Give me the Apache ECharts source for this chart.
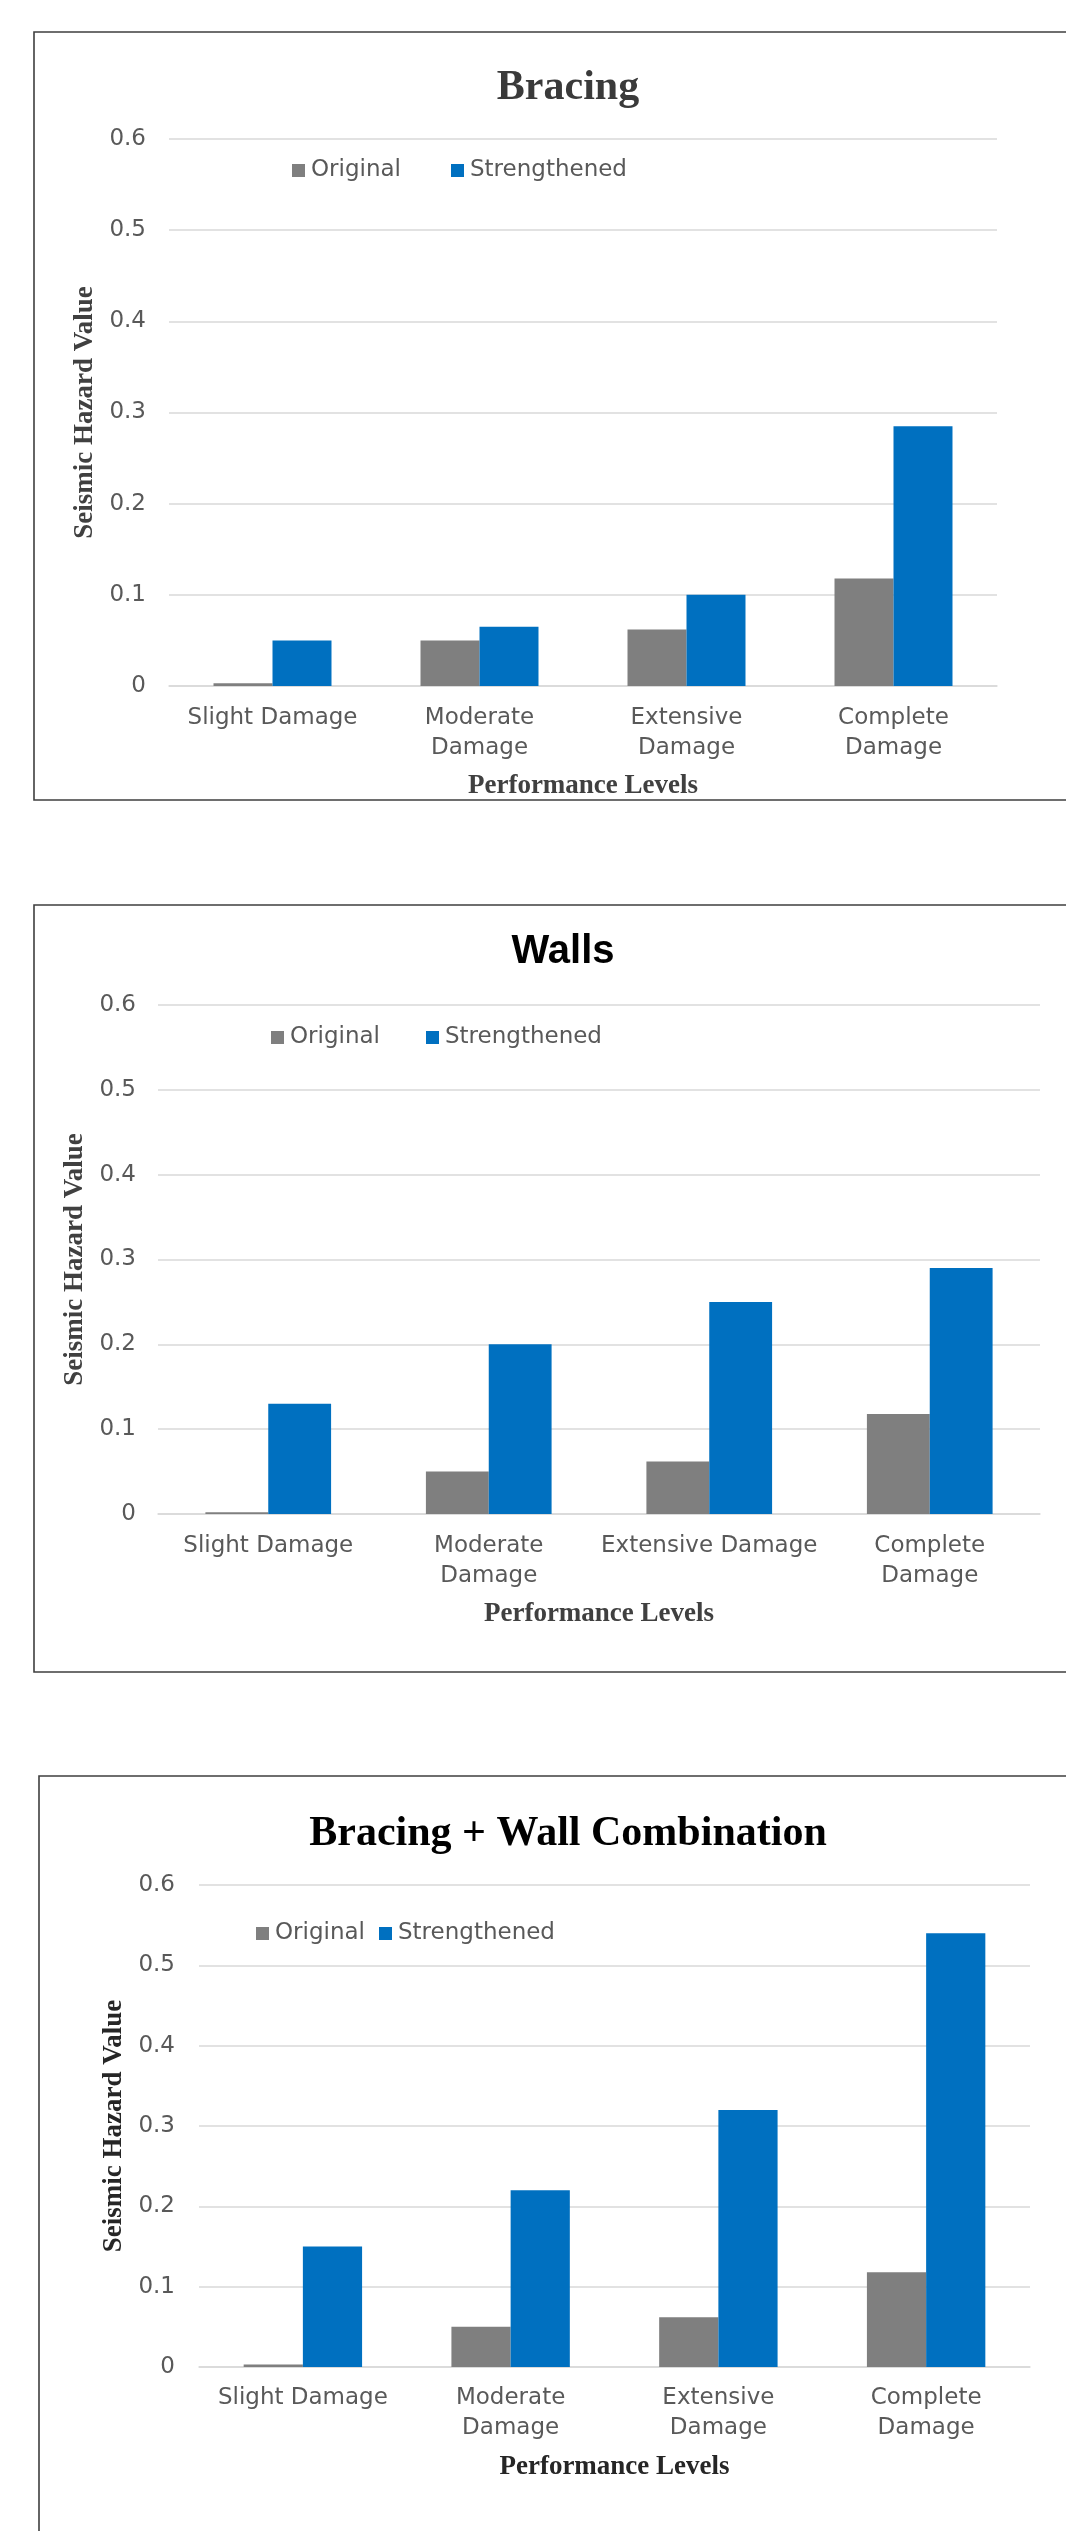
<!DOCTYPE html>
<html>
<head>
<meta charset="utf-8">
<script src="https://cdn.jsdelivr.net/npm/echarts@6/dist/echarts.min.js"></script>
<style>
  html, body { margin: 0; padding: 0; background: #ffffff; }
  #chart { width: 1066px; height: 2531px; }
</style>
</head>
<body>
<div id="chart"></div>
<script>
// ---- data ----
const categories = ["Slight Damage", "Moderate Damage", "Extensive Damage", "Complete Damage"];
const seriesNames = ["Original", "Strengthened"];
const yTickLabels = [0, 0.1, 0.2, 0.3, 0.4, 0.5, 0.6];
const chartTitles = ["Bracing", "Walls", "Bracing + Wall Combination"];
const xAxisTitle = "Performance Levels";
const yAxisTitle = "Seismic Hazard Value";

const bracingOriginal     = [0.003, 0.05, 0.062, 0.118];
const bracingStrengthened = [0.05, 0.065, 0.1, 0.285];
const wallsOriginal       = [0.002, 0.05, 0.062, 0.118];
const wallsStrengthened   = [0.13, 0.2, 0.25, 0.29];
const comboOriginal       = [0.003, 0.05, 0.062, 0.118];
const comboStrengthened   = [0.15, 0.22, 0.32, 0.54];

// ---- layout / style ----
const GRAY = '#7f7f7f', BLUE = '#0070c0';
const SANS = "'DejaVu Sans', sans-serif";
const SERIF = "'Liberation Serif', 'Times New Roman', serif";

const panels = [
  { grid: { left: 169, top: 139, width: 828, height: 547 }, titleX: 568, titleY: 88,
    titleStyle: { fontFamily: SERIF, fontWeight: 'bold', fontSize: 42, color: '#3a3a3a' },
    legendLeft: 292, legendY: 171, legendGap: 50, wrap: [1, 2, 3], labelMargin: 17,
    yNameGap: 66, xNameGap: 87, labelMarginY: 23, nameColor: '#404040',
    box: { x: 34, y: 32, w: 1100, h: 768 },
    data: [bracingOriginal, bracingStrengthened] },
  { grid: { left: 158, top: 1005, width: 882, height: 509 }, titleX: 563, titleY: 952,
    titleStyle: { fontFamily: "'Liberation Sans', Arial, sans-serif", fontWeight: 'bold', fontSize: 40, color: '#000000' },
    legendLeft: 271, legendY: 1038, legendGap: 46, wrap: [1, 3], labelMargin: 17,
    yNameGap: 66, xNameGap: 87, labelMarginY: 22, nameColor: '#404040',
    box: { x: 34, y: 905, w: 1100, h: 767 },
    data: [wallsOriginal, wallsStrengthened] },
  { grid: { left: 199, top: 1885, width: 831, height: 482 }, titleX: 568, titleY: 1834,
    titleStyle: { fontFamily: SERIF, fontWeight: 'bold', fontSize: 42, color: '#000000' },
    legendLeft: 256, legendY: 1934, legendGap: 14, wrap: [1, 2, 3], labelMargin: 16,
    yNameGap: 67, xNameGap: 87, labelMarginY: 24, nameColor: '#262626',
    box: { x: 39, y: 1776, w: 1100, h: 900 },
    data: [comboOriginal, comboStrengthened] }
];

const option = {
  backgroundColor: '#ffffff',
  animation: false,
  title: [], legend: [], grid: [], xAxis: [], yAxis: [], series: [],
  graphic: []
};

panels.forEach((p, i) => {
  option.graphic.push({
    type: 'rect', silent: true, z: -1,
    shape: { x: p.box.x, y: p.box.y, width: p.box.w, height: p.box.h },
    style: { fill: 'none', stroke: '#3f3f3f', lineWidth: 1.6 }
  });
  option.title.push({
    text: chartTitles[i], left: p.titleX, top: p.titleY,
    textAlign: 'center', textVerticalAlign: 'middle', padding: 0,
    textStyle: p.titleStyle
  });
  option.legend.push({
    data: seriesNames, left: p.legendLeft, top: p.legendY - 12, padding: 0,
    itemWidth: 13, itemHeight: 13, itemGap: p.legendGap, icon: 'rect',
    textStyle: { fontFamily: SANS, fontSize: 23, color: '#595959', padding: [0, 0, 0, 1] }
  });
  option.grid.push(Object.assign({ containLabel: false }, p.grid));
  option.xAxis.push({
    type: 'category', gridIndex: i, data: categories,
    name: xAxisTitle, nameLocation: 'middle', nameGap: p.xNameGap,
    nameTextStyle: { fontFamily: SERIF, fontWeight: 'bold', fontSize: 27, color: p.nameColor, verticalAlign: 'top' },
    axisLine: { show: true, lineStyle: { color: '#d9d9d9', width: 1.5 } },
    axisTick: { show: false },
    axisLabel: {
      interval: 0, margin: p.labelMargin, color: '#595959', fontFamily: SANS, fontSize: 23, lineHeight: 30,
      formatter: (v, idx) => p.wrap.includes(idx) ? v.replace(' ', '\n') : v
    }
  });
  option.yAxis.push({
    type: 'value', gridIndex: i,
    min: yTickLabels[0], max: yTickLabels[yTickLabels.length - 1], interval: 0.1,
    name: yAxisTitle, nameLocation: 'middle', nameGap: p.yNameGap, nameRotate: 90,
    nameTextStyle: { fontFamily: SERIF, fontWeight: 'bold', fontSize: 27, color: p.nameColor },
    axisLine: { show: false }, axisTick: { show: false },
    axisLabel: { margin: p.labelMarginY, color: '#595959', fontFamily: SANS, fontSize: 23,
      formatter: v => String(Math.round(v * 10) / 10) },
    splitLine: { lineStyle: { color: '#d9d9d9', width: 1.5 } }
  });
  seriesNames.forEach((name, k) => {
    option.series.push({
      type: 'bar', name: name, xAxisIndex: i, yAxisIndex: i,
      data: p.data[k], barGap: '0%', barCategoryGap: '43%',
      itemStyle: { color: k === 0 ? GRAY : BLUE }
    });
  });
});

const chart = echarts.init(document.getElementById('chart'), null, { renderer: 'canvas' });
chart.setOption(option);
</script>
</body>
</html>
